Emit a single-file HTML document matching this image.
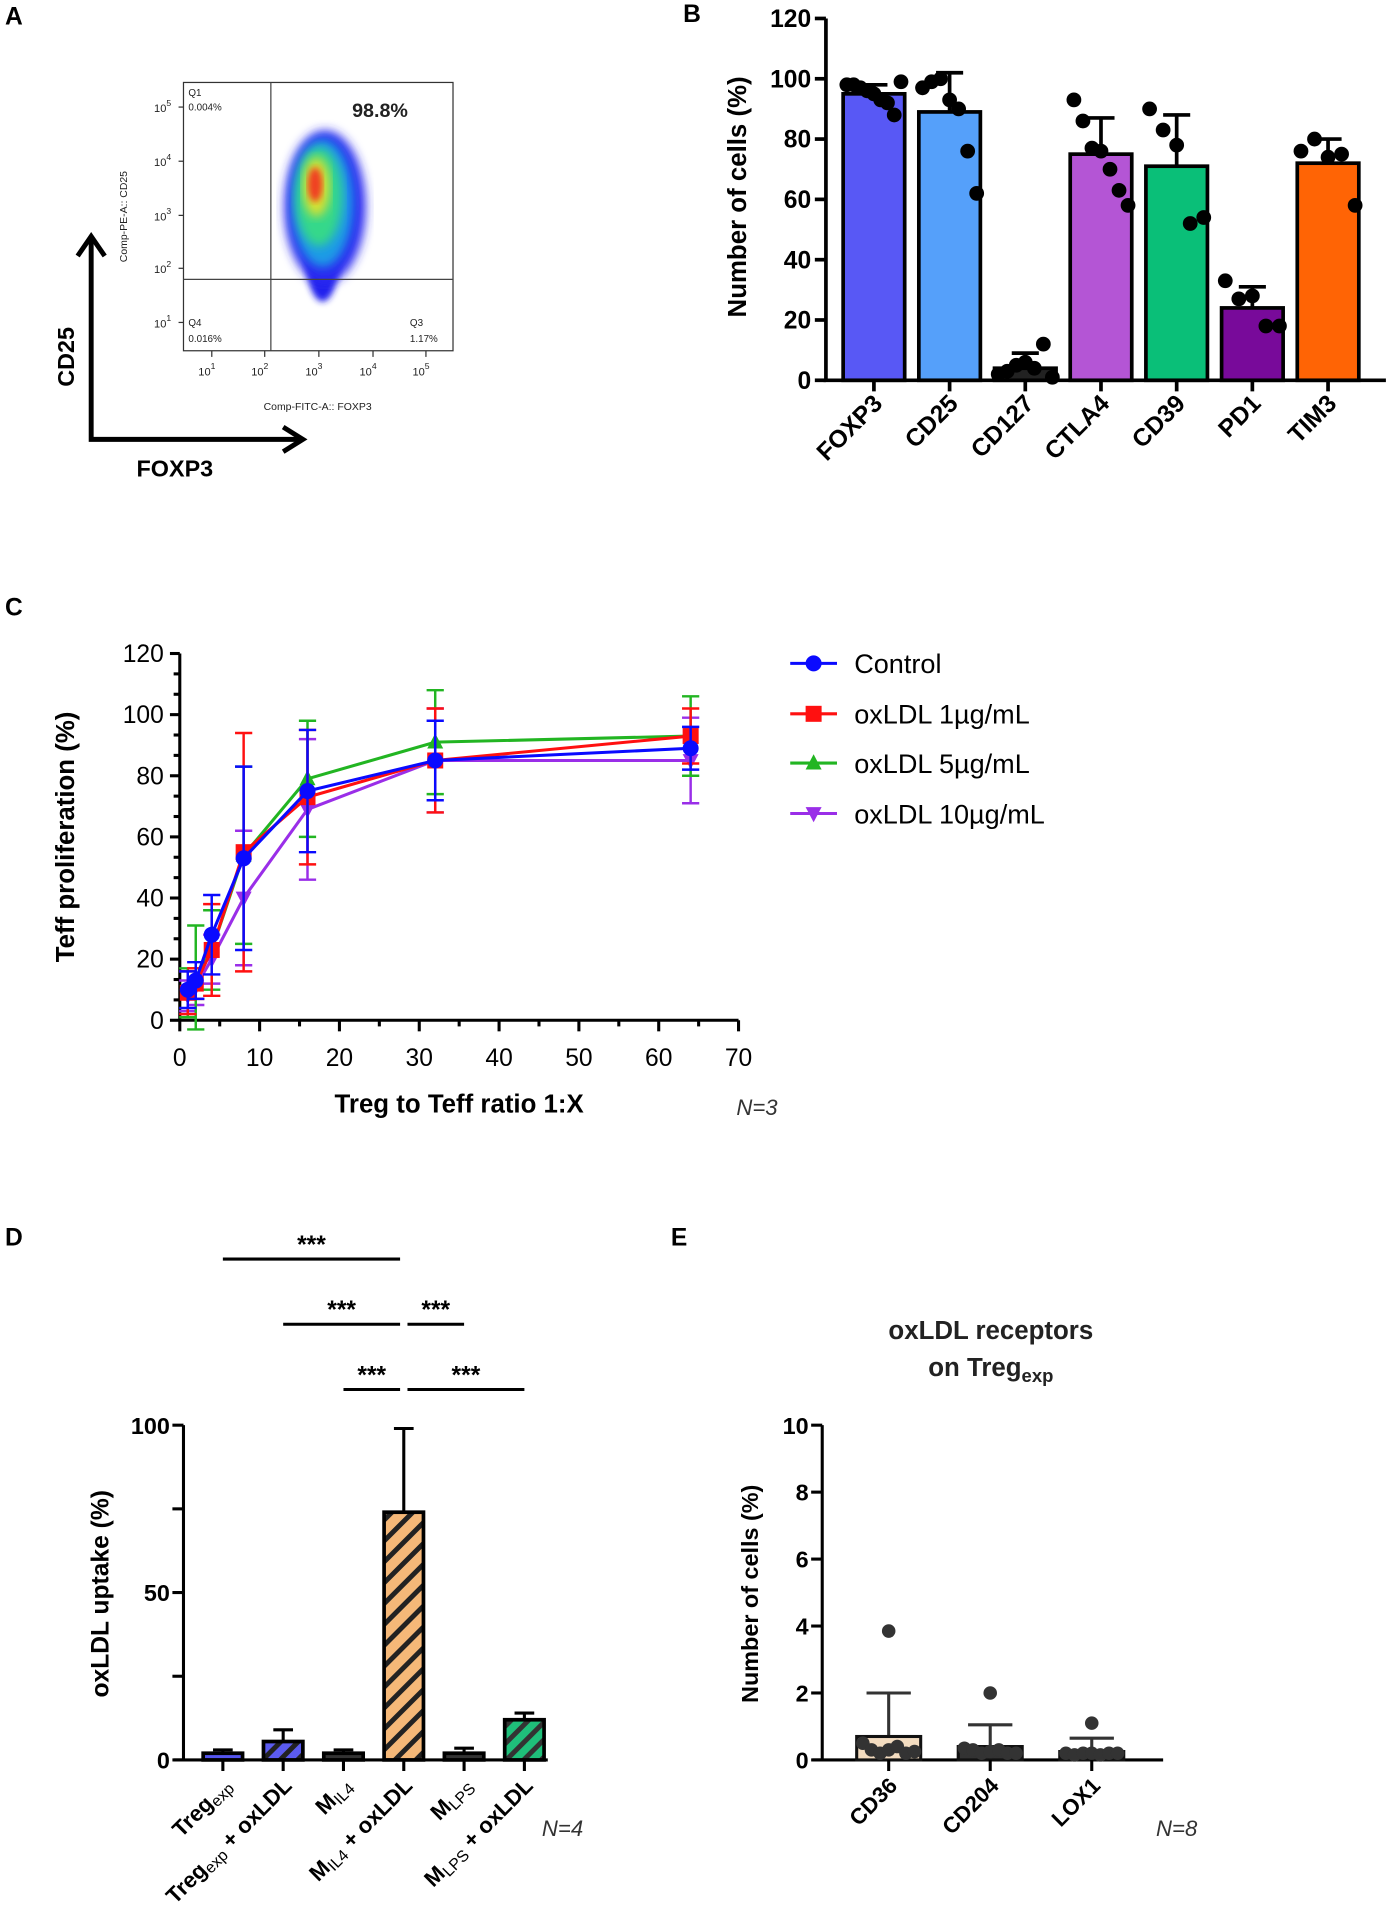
<!DOCTYPE html>
<html><head><meta charset="utf-8">
<style>
html,body{margin:0;padding:0;background:#fff;}
svg{display:block;font-family:"Liberation Sans",Arial,sans-serif;}
.b{font-weight:bold;}
</style></head>
<body>
<svg id="fig" width="1386" height="1931" viewBox="0 0 1126 1569" xmlns="http://www.w3.org/2000/svg">
<defs>
<filter id="blur3"><feGaussianBlur stdDeviation="4"/></filter>
<filter id="blur2"><feGaussianBlur stdDeviation="2.5"/></filter>
<pattern id="hatchBlue" patternUnits="userSpaceOnUse" width="10" height="10" patternTransform="rotate(45)"><rect width="10" height="10" fill="#5b5bf0"/><rect width="4" height="10" fill="#222"/></pattern>
<pattern id="hatchOrange" patternUnits="userSpaceOnUse" width="12" height="12" patternTransform="rotate(45)"><rect width="12" height="12" fill="#f5b878"/><rect width="4" height="12" fill="#222"/></pattern>
<pattern id="hatchGreen" patternUnits="userSpaceOnUse" width="10" height="10" patternTransform="rotate(45)"><rect width="10" height="10" fill="#1fbf7a"/><rect width="4" height="10" fill="#333"/></pattern>
</defs>

<g>
<text x="4" y="20" class="b" font-size="20">A</text>
<rect x="149" y="67" width="219" height="218" fill="#fff" stroke="#333" stroke-width="1"/>
<g>
<ellipse cx="262" cy="205" rx="14" ry="40" fill="#2222ee" filter="url(#blur2)"/>
<ellipse cx="264" cy="168" rx="33" ry="62" fill="#2a2af0" filter="url(#blur3)"/>
<ellipse cx="262" cy="165" rx="25" ry="52" fill="#1e9be6" filter="url(#blur3)"/>
<ellipse cx="259" cy="160" rx="19" ry="40" fill="#36d88a" filter="url(#blur3)"/>
<ellipse cx="257" cy="152" rx="11" ry="24" fill="#d8e030" filter="url(#blur3)"/>
<ellipse cx="256" cy="150" rx="6" ry="14" fill="#f04020" filter="url(#blur2)"/>
</g>
<line x1="220" y1="67" x2="220" y2="285" stroke="#444" stroke-width="1"/>
<line x1="149" y1="227" x2="368" y2="227" stroke="#444" stroke-width="1"/>
<g font-size="8" fill="#222">
<text x="153" y="78">Q1</text>
<text x="153" y="90">0.004%</text>
<text x="153" y="265">Q4</text>
<text x="153" y="278">0.016%</text>
<text x="333" y="265">Q3</text>
<text x="333" y="278">1.17%</text>
</g>
<text x="286" y="95" font-size="16" class="b" fill="#222">98.8%</text>
<g id="flowTicks" font-size="9" fill="#222"></g>
<text transform="translate(103,176) rotate(-90)" text-anchor="middle" font-size="8.5" fill="#222">Comp-PE-A:: CD25</text>
<text x="258" y="333" text-anchor="middle" font-size="8.5" fill="#222">Comp-FITC-A:: FOXP3</text>
<path d="M74 192 L74 357 L244 357" fill="none" stroke="#000" stroke-width="4"/>
<path d="M63 208 L74 192 L85 208 M230 347 L246 357 L230 367" fill="none" stroke="#000" stroke-width="4" stroke-linejoin="miter"/>
<text transform="translate(60,290) rotate(-90)" text-anchor="middle" font-size="19" class="b">CD25</text>
<text x="142" y="387" text-anchor="middle" font-size="19" class="b">FOXP3</text>
</g>

<g id="panelB">
<text x="555" y="18" class="b" font-size="20">B</text>
<text transform="translate(606,160) rotate(-90)" text-anchor="middle" font-size="21" class="b">Number of cells (%)</text>
</g>

<g id="panelC">
<text x="4" y="500" class="b" font-size="20">C</text>
<text transform="translate(60,680) rotate(-90)" text-anchor="middle" font-size="21" class="b">Teff proliferation (%)</text>
<text x="373" y="904" text-anchor="middle" font-size="21" class="b">Treg to Teff ratio 1:X</text>
<text x="615" y="906" text-anchor="middle" font-size="18" font-style="italic" fill="#333">N=3</text>
</g>

<g id="panelD">
<text x="4" y="1012" class="b" font-size="20">D</text>
<text transform="translate(88,1295) rotate(-90)" text-anchor="middle" font-size="20" class="b">oxLDL uptake (%)</text>
<text x="457" y="1492" text-anchor="middle" font-size="18" font-style="italic" fill="#333">N=4</text>
</g>

<g id="panelE">
<text x="545" y="1012" class="b" font-size="20">E</text>
<text x="805" y="1088" text-anchor="middle" font-size="21" class="b" fill="#222">oxLDL receptors</text>
<text x="805" y="1118" text-anchor="middle" font-size="21" class="b" fill="#222">on Treg<tspan font-size="15" dy="5">exp</tspan></text>
<text transform="translate(616,1295) rotate(-90)" text-anchor="middle" font-size="19" class="b">Number of cells (%)</text>
<text x="956" y="1492" text-anchor="middle" font-size="18" font-style="italic" fill="#333">N=8</text>
</g>
</svg>

<script>
const bCategories = ["FOXP3","CD25","CD127","CTLA4","CD39","PD1","TIM3"];
const bMeans = [95, 89, 4, 75, 71, 24, 72];
const bErrUpper = [98, 102, 9, 87, 88, 31, 80];
const bPoints = [[98,98,97,96,95,93,92,88,99],[97,99,100,93,90,76,62],[2,3,5,6,4,12,1],[93,86,77,76,70,63,58],[90,83,78,52,54],[33,27,28,18,18],[76,80,74,75,58]];
const bColors = ["#5858f5","#55a0fa","#222","#b455d5","#0abf78","#780a9a","#ff6405"];
const bTicks = [0,20,40,60,80,100,120];

const cX = [1,2,4,8,16,32,64];
const cSeriesNames = ["Control","oxLDL 1µg/mL","oxLDL 5µg/mL","oxLDL 10µg/mL"];
const cControl = [10,13,28,53,75,85,89];
const cOx1 = [9,12,23,55,73,85,93];
const cOx5 = [9,14,23,54,79,91,93];
const cOx10 = [8,11,20,40,69,85,85];
const cControlErr = [6,6,13,30,20,13,7];
const cOx1Err = [7,5,15,39,22,17,9];
const cOx5Err = [8,17,13,29,19,17,13];
const cOx10Err = [5,6,8,22,23,17,14];
const cXTicks = [0,10,20,30,40,50,60,70];
const cYTicks = [0,20,40,60,80,100,120];

const dMeans = [2, 5.5, 2, 74, 2, 12];
const dErr = [1, 3.5, 1, 25, 1.5, 2];
const dTicks = [0,50,100];
const dMinorTicks = [25,75];

const eCategories = ["CD36","CD204","LOX1"];
const eMeans = [0.7, 0.4, 0.25];
const eErrUpper = [2.0, 1.05, 0.65];
const ePoints = [[3.85,0.5,0.3,0.2,0.3,0.4,0.2,0.25],[2.0,0.35,0.3,0.2,0.25,0.3,0.2,0.2],[1.1,0.2,0.15,0.2,0.2,0.15,0.2,0.2]];
const eTicks = [0,2,4,6,8,10];

const NS = "http://www.w3.org/2000/svg";
function mk(parent, tag, attrs, text) {
  const e = document.createElementNS(NS, tag);
  for (const k in attrs) e.setAttribute(k, attrs[k]);
  if (text !== undefined) e.textContent = text;
  parent.appendChild(e);
  return e;
}

(function(){
  const g = document.getElementById("flowTicks");
  const yPos = [262,218,175,131,87], xPos = [172,215,259,303,346];
  for (let i = 0; i < 5; i++) {
    const t = mk(g, "text", {x: 139, y: yPos[i]+4, "text-anchor":"end"});
    
    
    t.innerHTML = '10<tspan dy="-5" font-size="7">' + (i+1) + '</tspan>';
    mk(g, "line", {x1:145, x2:149, y1:yPos[i], y2:yPos[i], stroke:"#333"});
    const tx = mk(g, "text", {x: xPos[i]-4, y: 305, "text-anchor":"middle"});
    
    
    tx.innerHTML = '10<tspan dy="-5" font-size="7">' + (i+1) + '</tspan>';
    mk(g, "line", {x1:xPos[i], x2:xPos[i], y1:285, y2:290, stroke:"#333"});
  }
})();

(function(){
  const g = document.getElementById("panelB");
  const x0 = 671, y0 = 309, yTop = 15;
  const y = v => y0 - (v/120)*(y0-yTop);
  const xc = i => 710 + i*61.5;
  const bw = 50;
  mk(g, "line", {x1:x0, x2:x0, y1:yTop, y2:y0, stroke:"#000", "stroke-width":3});
  mk(g, "line", {x1:x0-2, x2:1126, y1:y0, y2:y0, stroke:"#000", "stroke-width":3});
  bTicks.forEach(t => {
    mk(g, "line", {x1:x0-9, x2:x0, y1:y(t), y2:y(t), stroke:"#000", "stroke-width":3});
    const lb = mk(g, "text", {x:x0-12, y:y(t)+7, "text-anchor":"end", "font-size":20, "font-weight":"bold"}, String(t));
    
    
  });
  bCategories.forEach((c, i) => {
    const cx = xc(i);
    const r = mk(g, "rect", {x:cx-bw/2, y:y(bMeans[i]), width:bw, height:y0-y(bMeans[i]), fill:bColors[i], stroke:"#000", "stroke-width":3});
    
    
    mk(g, "line", {x1:cx, x2:cx, y1:y(bMeans[i]), y2:y(bErrUpper[i]), stroke:"#000", "stroke-width":3});
    mk(g, "line", {x1:cx-11, x2:cx+11, y1:y(bErrUpper[i]), y2:y(bErrUpper[i]), stroke:"#000", "stroke-width":3});
    mk(g, "line", {x1:cx, x2:cx, y1:y0, y2:y0+9, stroke:"#000", "stroke-width":3});
    const pts = bPoints[i], n = pts.length;
    pts.forEach((p, j) => {
      const off = n > 1 ? (j/(n-1) - 0.5) * (bw-6) : 0;
      const d = mk(g, "circle", {cx:cx+off, cy:y(p), r:6, fill:"#000"});
      
      
    });
    const lb = mk(g, "text", {x:0, y:0, "text-anchor":"end", "font-size":20, "font-weight":"bold", transform:`translate(${cx+8},${y0+20}) rotate(-45)`}, c);
    
    
  });
})();

(function(){
  const g = document.getElementById("panelC");
  const x0 = 146, x1 = 600, y0 = 829, yTop = 531;
  const X = v => x0 + (v/70)*(x1-x0);
  const Y = v => y0 - (v/120)*(y0-yTop);
  mk(g, "line", {x1:x0, x2:x0, y1:yTop, y2:y0, stroke:"#000", "stroke-width":2.5});
  mk(g, "line", {x1:x0, x2:x1, y1:y0, y2:y0, stroke:"#000", "stroke-width":2.5});
  for (let v = 0; v <= 120.01; v += 20/3) {
    mk(g, "line", {x1:x0-(Math.abs(v%20)<0.1||Math.abs(v%20-20)<0.1?8:5), x2:x0, y1:Y(v), y2:Y(v), stroke:"#000", "stroke-width":2.5});
  }
  for (let v = 0; v <= 70; v += 5) {
    mk(g, "line", {x1:X(v), x2:X(v), y1:y0, y2:y0+(v%10===0?9:5), stroke:"#000", "stroke-width":2.5});
  }
  cYTicks.forEach(t => {
    const lb = mk(g, "text", {x:x0-13, y:Y(t)+7, "text-anchor":"end", "font-size":20}, String(t));
    
    
  });
  cXTicks.forEach(t => {
    const lb = mk(g, "text", {x:X(t), y:y0+37, "text-anchor":"middle", "font-size":20}, String(t));
    
    
  });
  const series = [cOx10, cOx5, cOx1, cControl];
  const errs = [cOx10Err, cOx5Err, cOx1Err, cControlErr];
  const colors = ["#9a2ee8","#22b522","#ff1010","#0a0aff"];
  const shapes = ["tridown","triup","square","circle"];
  const names = [cSeriesNames[3], cSeriesNames[2], cSeriesNames[1], cSeriesNames[0]];
  function marker(par, shape, x, y, col, s) {
    if (shape === "circle") return mk(par, "circle", {cx:x, cy:y, r:s, fill:col});
    if (shape === "square") return mk(par, "rect", {x:x-s, y:y-s, width:2*s, height:2*s, fill:col});
    if (shape === "triup") return mk(par, "polygon", {points:`${x},${y-s*1.1} ${x-s},${y+s*0.8} ${x+s},${y+s*0.8}`, fill:col});
    return mk(par, "polygon", {points:`${x},${y+s*1.1} ${x-s},${y-s*0.8} ${x+s},${y-s*0.8}`, fill:col});
  }
  series.forEach((s, k) => {
    const sg = mk(g, "g", {});
    
    
    cX.forEach((xv, i) => {
      const e = errs[k][i];
      mk(sg, "line", {x1:X(xv), x2:X(xv), y1:Y(s[i]+e), y2:Y(s[i]-e), stroke:colors[k], "stroke-width":2});
      mk(sg, "line", {x1:X(xv)-7, x2:X(xv)+7, y1:Y(s[i]+e), y2:Y(s[i]+e), stroke:colors[k], "stroke-width":2});
      mk(sg, "line", {x1:X(xv)-7, x2:X(xv)+7, y1:Y(s[i]-e), y2:Y(s[i]-e), stroke:colors[k], "stroke-width":2});
    });
    mk(sg, "polyline", {points: cX.map((xv,i)=>X(xv)+","+Y(s[i])).join(" "), fill:"none", stroke:colors[k], "stroke-width":2.5});
    cX.forEach((xv, i) => { marker(sg, shapes[k], X(xv), Y(s[i]), colors[k], 6.5); });
  });
  const legY = [539, 580, 620, 661];
  [3,2,1,0].forEach((k, i) => {
    const lg = mk(g, "g", {});
    
    
    mk(lg, "line", {x1:642, x2:680, y1:legY[i], y2:legY[i], stroke:colors[k], "stroke-width":2.5});
    marker(lg, shapes[k], 661, legY[i], colors[k], 6.5);
    mk(lg, "text", {x:694, y:legY[i]+8, "font-size":22}, names[k]);
  });
})();

(function(){
  const g = document.getElementById("panelD");
  const x0 = 149, x1 = 445, y0 = 1430, yTop = 1158;
  const Y = v => y0 - (v/100)*(y0-yTop);
  const xc = i => 181 + i*49;
  const bw = 32;
  mk(g, "line", {x1:x0, x2:x0, y1:yTop, y2:y0, stroke:"#000", "stroke-width":2.5});
  mk(g, "line", {x1:x0-8, x2:x1, y1:y0, y2:y0, stroke:"#000", "stroke-width":2.5});
  dTicks.concat(dMinorTicks).forEach(t => {
    mk(g, "line", {x1:x0-9, x2:x0, y1:Y(t), y2:Y(t), stroke:"#000", "stroke-width":2.5});
  });
  dTicks.forEach(t => {
    const lb = mk(g, "text", {x:x0-11, y:Y(t)+7, "text-anchor":"end", "font-size":19, "font-weight":"bold"}, String(t));
    
    
  });
  const fills = ["#5555ee","url(#hatchBlue)","#333","url(#hatchOrange)","#333","url(#hatchGreen)"];
  const names = ["treg-exp","treg-exp-oxldl","m-il4","m-il4-oxldl","m-lps","m-lps-oxldl"];
  const labels = [
    'Treg<tspan font-size="13" dy="3" font-weight="normal">exp</tspan>',
    'Treg<tspan font-size="13" dy="3" font-weight="normal">exp</tspan><tspan dy="-3"> + oxLDL</tspan>',
    'M<tspan font-size="13" dy="3" font-weight="normal">IL4</tspan>',
    'M<tspan font-size="13" dy="3" font-weight="normal">IL4</tspan><tspan dy="-3"> + oxLDL</tspan>',
    'M<tspan font-size="13" dy="3" font-weight="normal">LPS</tspan>',
    'M<tspan font-size="13" dy="3" font-weight="normal">LPS</tspan><tspan dy="-3"> + oxLDL</tspan>'];
  dMeans.forEach((m, i) => {
    const cx = xc(i);
    const top = Y(dMeans[i] + dErr[i]);
    mk(g, "line", {x1:cx, x2:cx, y1:Y(m), y2:top, stroke:"#000", "stroke-width":2.5});
    mk(g, "line", {x1:cx-8, x2:cx+8, y1:top, y2:top, stroke:"#000", "stroke-width":2.5});
    const r = mk(g, "rect", {x:cx-bw/2, y:Y(m), width:bw, height:Math.max(y0-Y(m),1), fill:fills[i], stroke:"#000", "stroke-width":3});
    
    
    mk(g, "line", {x1:cx, x2:cx, y1:y0, y2:y0+9, stroke:"#000", "stroke-width":2.5});
    const lb = mk(g, "text", {x:0, y:0, "text-anchor":"end", "font-size":18, "font-weight":"bold", transform:`translate(${cx+8},${y0+22}) rotate(-45)`});
    lb.innerHTML = labels[i];
    
    
  });
  const sig = [[0,3,1023],[1,3,1076],[4,3,1076],[2,3,1129],[5,3,1129]];
  sig.forEach(s => {
    let a = xc(s[0]), b = xc(s[1]);
    let l = Math.min(a,b), r = Math.max(a,b);
    if (s[0] > s[1]) { l += 3; } else { r -= 3; }
    if (s[0] === 4) { r = xc(4); l = xc(3)+3; }
    if (s[0] === 5) { r = xc(5); l = xc(3)+3; }
    const sg = mk(g, "g", {});
    
    
    mk(sg, "line", {x1:l, x2:r, y1:s[2], y2:s[2], stroke:"#000", "stroke-width":2.5});
    mk(sg, "text", {x:(l+r)/2, y:s[2]-5, "text-anchor":"middle", "font-size":20, "font-weight":"bold"}, "***");
  });
})();

(function(){
  const g = document.getElementById("panelE");
  const x0 = 668, x1 = 945, y0 = 1430, yTop = 1158;
  const Y = v => y0 - (v/10)*(y0-yTop);
  const xc = i => 722 + i*82.5;
  const bw = 52;
  mk(g, "line", {x1:x0, x2:x0, y1:yTop, y2:y0, stroke:"#000", "stroke-width":2.5});
  mk(g, "line", {x1:x0-8, x2:x1, y1:y0, y2:y0, stroke:"#000", "stroke-width":2.5});
  eTicks.forEach(t => {
    mk(g, "line", {x1:x0-9, x2:x0, y1:Y(t), y2:Y(t), stroke:"#000", "stroke-width":2.5});
    const lb = mk(g, "text", {x:x0-11, y:Y(t)+7, "text-anchor":"end", "font-size":19, "font-weight":"bold"}, String(t));
    
    
  });
  const fills = ["#f3dcc0","#333","#333"];
  eCategories.forEach((c, i) => {
    const cx = xc(i);
    mk(g, "line", {x1:cx, x2:cx, y1:Y(eMeans[i]), y2:Y(eErrUpper[i]), stroke:"#333", "stroke-width":2.5});
    mk(g, "line", {x1:cx-18, x2:cx+18, y1:Y(eErrUpper[i]), y2:Y(eErrUpper[i]), stroke:"#333", "stroke-width":2.5});
    const r = mk(g, "rect", {x:cx-bw/2, y:Y(eMeans[i]), width:bw, height:y0-Y(eMeans[i]), fill:fills[i], stroke:"#111", "stroke-width":2.5});
    
    
    const pts = ePoints[i], n = pts.length;
    pts.forEach((p, j) => {
      const off = j === 0 ? 0 : ((j-1)/(n-2) - 0.5) * (bw-10);
      const d = mk(g, "circle", {cx:cx+off, cy:Y(p), r:5.5, fill:"#333"});
      
      
    });
    mk(g, "line", {x1:cx, x2:cx, y1:y0, y2:y0+9, stroke:"#000", "stroke-width":2.5});
    const lb = mk(g, "text", {x:0, y:0, "text-anchor":"end", "font-size":18, "font-weight":"bold", transform:`translate(${cx+8},${y0+22}) rotate(-45)`}, c);
    
    
  });
})();
</script>
</body></html>
